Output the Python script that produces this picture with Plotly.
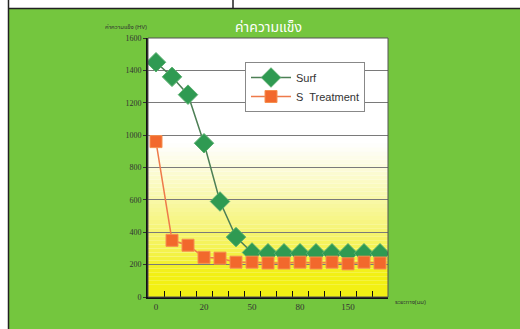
import plotly.graph_objects as go

depth = ["0", "5", "10", "20", "30", "40", "50", "60", "70", "80", "100", "120", "150", "175", "200"]
tick_text = ["0", "", "", "20", "", "", "50", "", "", "80", "", "", "150", "", ""]
surf = [1450, 1360, 1250, 950, 590, 370, 275, 270, 270, 270, 270, 270, 270, 270, 270]
s_treat = [960, 350, 320, 245, 240, 215, 215, 210, 210, 215, 210, 215, 205, 215, 210]
y_ticks = [0, 200, 400, 600, 800, 1000, 1200, 1400, 1600]

W, H = 520, 329
L, R, T, B = 148, 132, 38, 32
pw, ph = W - L - R, H - T - B


def px(x):
    return (x - L) / pw


def py(y):
    return (H - B - y) / ph


GREEN = "#74c63e"
fig = go.Figure()

fig.add_trace(go.Scatter(
    x=depth, y=surf, name="Surf", mode="lines+markers",
    line=dict(color="#4d7f55", width=1.5),
    marker=dict(symbol="diamond", size=15, color="#2f9a52", line=dict(color="#5cb070", width=1)),
))
fig.add_trace(go.Scatter(
    x=depth, y=s_treat, name="S  Treatment", mode="lines+markers",
    line=dict(color="#ee7a4a", width=1.5),
    marker=dict(symbol="square", size=12, color="#f2682c", line=dict(color="#f59050", width=1)),
))

shapes = []
# gradient background in plot area
N = 64
for i in range(N):
    v0 = 1600 * i / N
    v1 = 1600 * (i + 1) / N
    vm = (v0 + v1) / 2
    t = min(max((vm - 150) / 800, 0), 1)
    r = int(242 + (255 - 242) * t)
    g = int(240 + (255 - 240) * t)
    b = int(20 + (255 - 20) * t ** 0.8)
    shapes.append(dict(type="rect", xref="x domain", yref="y", x0=0, x1=1, y0=v0, y1=v1,
                       fillcolor=f"rgb({r},{g},{b})", line=dict(width=0), layer="below"))
# plot border
shapes.append(dict(type="rect", xref="paper", yref="paper", x0=0, x1=1, y0=0, y1=1,
                   line=dict(color="#555555", width=1), layer="above"))
# top white strip and left white strip (frame of the scanned page)
shapes.append(dict(type="rect", xref="paper", yref="paper", x0=px(-5), x1=px(W + 5), y0=py(8), y1=py(-5),
                   fillcolor="white", line=dict(width=0)))
shapes.append(dict(type="rect", xref="paper", yref="paper", x0=px(-5), x1=px(8), y0=py(H + 5), y1=py(-5),
                   fillcolor="white", line=dict(width=0)))
shapes.append(dict(type="line", xref="paper", yref="paper", x0=px(8), x1=px(W + 5), y0=py(8.5), y1=py(8.5),
                   line=dict(color="#222222", width=1.5)))
shapes.append(dict(type="line", xref="paper", yref="paper", x0=px(8.5), x1=px(8.5), y0=py(H + 5), y1=py(0),
                   line=dict(color="#222222", width=1.5)))
shapes.append(dict(type="line", xref="paper", yref="paper", x0=px(233), x1=px(233), y0=py(8), y1=py(-5),
                   line=dict(color="#222222", width=1.5)))

annotations = [
    dict(text="ค่าความแข็ง", xref="paper", yref="paper", x=px(268), y=py(27), showarrow=False,
         font=dict(family="Noto Sans Thai, Noto Sans, sans-serif", size=14, color="white"),
         xanchor="center", yanchor="middle"),
    dict(text="ค่าความแข็ง (HV)", xref="paper", yref="paper", x=px(126), y=py(27), showarrow=False,
         font=dict(family="Noto Sans Thai, Noto Sans, sans-serif", size=6, color="#333333"),
         xanchor="center", yanchor="middle"),
    dict(text="ระยะทาง(มม)", xref="paper", yref="paper", x=px(393), y=py(302), showarrow=False,
         font=dict(family="Noto Sans Thai, Noto Sans, sans-serif", size=6, color="#333333"),
         xanchor="left", yanchor="middle"),
]

fig.update_layout(
    width=W, height=H,
    margin=dict(l=L, r=R, t=T, b=B),
    paper_bgcolor=GREEN,
    plot_bgcolor="white",
    showlegend=True,
    legend=dict(x=px(245), y=py(62), xanchor="left", yanchor="top",
                bgcolor="white", bordercolor="#888888", borderwidth=1,
                font=dict(family="Liberation Sans, Arial, sans-serif", size=11, color="#333333"),
                tracegroupgap=0, itemwidth=40),
    xaxis=dict(type="category", categoryorder="array", categoryarray=depth,
               tickmode="array", tickvals=depth, ticktext=tick_text, tickangle=0,
               tickson="boundaries", ticks="inside", ticklen=6, tickcolor="#111111",
               range=[-0.5, len(depth) - 0.5], showgrid=False,
               showline=True, linecolor="#111111", linewidth=2,
               tickfont=dict(family="Liberation Serif, serif", size=9, color="#333333")),
    yaxis=dict(range=[0, 1600], tickvals=y_ticks, showgrid=True, gridcolor="#7a7a7a", gridwidth=1,
               zeroline=False, ticks="outside", ticklen=3, tickcolor="#333333",
               showline=True, linecolor="#111111", linewidth=2,
               tickfont=dict(family="Liberation Serif, serif", size=8, color="#333333")),
    shapes=shapes,
    annotations=annotations,
)

fig.write_html("out.html")
